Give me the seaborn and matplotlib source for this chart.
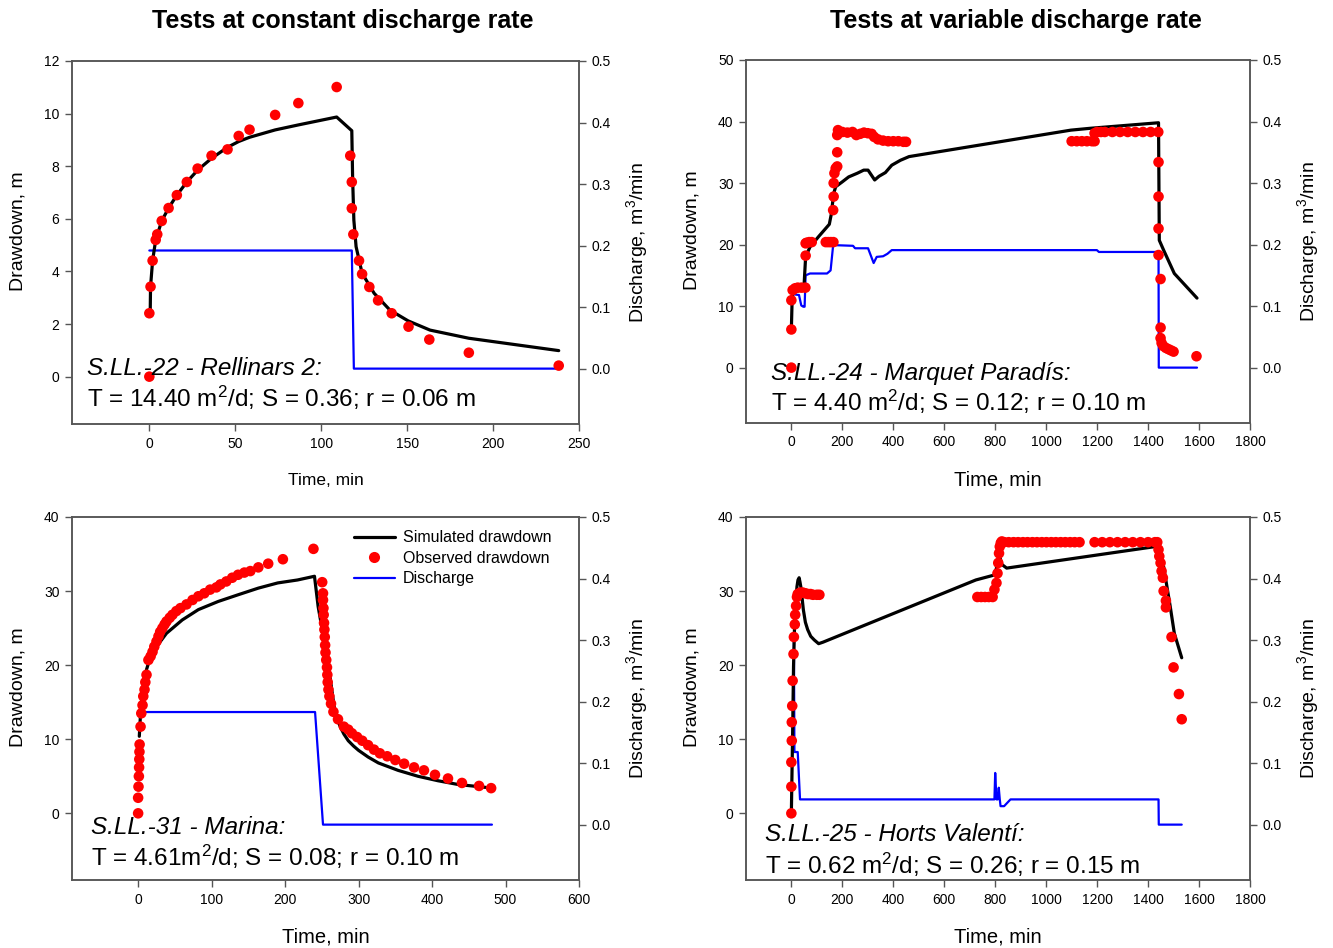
import matplotlib
matplotlib.use("Agg")
import matplotlib.pyplot as plt
from matplotlib.lines import Line2D
import seaborn as sns

# ---------------- data ----------------
# Panel 1: S.LL.-22 Rellinars 2 (constant rate)
p1_obs_t = [0, 0, 0.7, 1.9, 3.7, 4.6, 7.2, 11.2, 16, 21.8, 28.1, 36.2, 45.5, 52, 58.3, 73.2,
            86.7, 109, 116.9, 117.8, 117.8, 118.7, 122, 123.8, 128, 133.1, 141, 150.8,
            162.9, 185.9, 238.2]
p1_obs_s = [0, 2.41, 3.42, 4.41, 5.2, 5.41, 5.92, 6.41, 6.9, 7.4, 7.91, 8.4, 8.64, 9.15, 9.39, 9.95,
            10.4, 11.01, 8.4, 7.4, 6.4, 5.41, 4.41, 3.9, 3.41, 2.9, 2.41, 1.9,
            1.41, 0.91, 0.42]
p1_sim_t = [0.5, 0.7, 1.9, 3.7, 7.2, 11.2, 16, 21.8, 28.1, 36.2, 45.5, 52, 58.3, 73.2, 86.7,
            109, 117.8, 118.3, 119, 120.3, 123.8, 130.8, 140, 150.6, 163.3, 185.9, 238.2]
p1_sim_s = [2.4, 3.42, 4.41, 5.2, 5.92, 6.41, 6.9, 7.4, 7.85, 8.3, 8.72, 8.94, 9.1, 9.38, 9.57,
            9.87, 9.35, 7.5, 5.95, 4.94, 3.93, 3.17, 2.53, 2.12, 1.77, 1.46, 0.99]
p1_q_t = [0, 117.8, 119, 238.2]
p1_q = [0.192, 0.192, 0.0, 0.0]

# Panel 2: S.LL.-24 Marquet Paradis (variable rate)
p2_obs_t = [0, 0, 0, 5, 15, 25, 40, 55, 56, 56,
            60, 70, 80, 135, 145, 155, 165, 164, 166, 166,
            169, 174, 180, 180, 180, 183, 200, 220, 240, 255,
            270, 285, 300, 315, 325, 340, 360, 380, 400, 420,
            440, 450, 1100, 1120, 1140, 1160, 1180, 1190, 1190, 1200,
            1215, 1230, 1260, 1290, 1320, 1350, 1380, 1410, 1440, 1441,
            1441, 1441, 1441, 1449, 1449, 1449, 1453, 1460, 1470, 1480,
            1490, 1500, 1590]
p2_obs_s = [0, 6.2, 10.95, 12.6, 12.9, 13.0, 13.0, 13.0, 18.2, 20.2,
            20.3, 20.4, 20.4, 20.4, 20.4, 20.4, 20.4, 25.6, 27.8, 30.0,
            31.6, 32.4, 32.7, 35.0, 37.8, 38.6, 38.3, 38.2, 38.3, 37.8,
            38.0, 38.2, 38.1, 38.0, 37.5, 37.1, 36.9, 36.8, 36.8, 36.8,
            36.7, 36.7, 36.8, 36.8, 36.8, 36.8, 36.8, 36.8, 38.1, 38.3,
            38.3, 38.3, 38.3, 38.3, 38.3, 38.3, 38.3, 38.3, 38.3, 33.4,
            27.8, 22.6, 18.3, 14.4, 6.5, 4.8, 4.0, 3.5, 3.2, 3.0,
            2.8, 2.6, 1.85]
p2_sim_t = [0, 3, 8, 50, 56, 73, 107, 149, 157, 166,
            174, 200, 225, 259, 284, 301, 327, 344, 369, 394,
            428, 462, 1097, 1173, 1441, 1444, 1461, 1503, 1592]
p2_sim_s = [6.2, 11.0, 13.1, 13.5, 18.0, 19.6, 21.3, 23.3, 25.0, 28.3,
            29.4, 30.2, 31.0, 31.6, 32.1, 32.1, 30.5, 31.1, 31.7, 32.9,
            33.7, 34.3, 38.6, 38.9, 39.8, 20.7, 19.1, 15.3, 11.3]
p2_q_t = [5, 12, 13, 30, 39, 47, 52, 56, 73, 140,
          154, 166, 174, 242, 250, 301, 323, 335, 360, 377,
          394, 1199, 1207, 1441, 1442, 1592]
p2_q = [0.134, 0.134, 0.119, 0.118, 0.101, 0.099, 0.099, 0.150, 0.153, 0.153,
        0.158, 0.207, 0.199, 0.198, 0.194, 0.194, 0.170, 0.180, 0.181, 0.185,
        0.191, 0.191, 0.188, 0.188, 0.0, 0.0]

# Panel 3: S.LL.-31 Marina (constant rate)
p3_obs_t = [0, 0, 0.5, 1, 1.3, 1.6, 1.8, 2.0, 3.3, 4.3,
            6, 7, 8.7, 9.8, 11.4, 14, 17, 19.6, 22, 25,
            27.7, 30, 33, 36, 38.6, 43, 46.7, 52, 57.6, 65.8,
            74, 82, 90, 98, 106.5, 112, 120, 128, 136, 144.6,
            152.7, 163.6, 177, 197, 238.6, 250.5, 251.6, 251.6, 252.2, 252.5,
            253, 253.5, 254, 254.5, 255, 256, 257, 257.5, 258, 259,
            260.3, 262.5, 265.8, 272, 280, 286, 291, 298, 305, 313,
            321, 329, 339, 350, 362, 375.5, 389, 404, 421.7, 440.7,
            464, 480.4]
p3_obs_s = [0, 2.1, 3.6, 5.0, 6.2, 7.3, 8.3, 9.3, 11.7, 13.5,
            14.6, 15.8, 16.7, 17.7, 18.7, 20.7, 21.2, 21.8, 22.5, 23.2,
            23.9, 24.5, 25.0, 25.5, 25.9, 26.4, 26.8, 27.3, 27.7, 28.2,
            28.8, 29.3, 29.7, 30.2, 30.5, 30.9, 31.3, 31.8, 32.2, 32.5,
            32.7, 33.2, 33.7, 34.3, 35.7, 31.2, 29.7, 28.8, 27.7, 26.8,
            25.7, 24.8, 23.8, 22.7, 21.7, 20.7, 19.7, 18.7, 17.7, 16.7,
            15.8, 14.8, 13.7, 12.7, 11.7, 11.3, 10.8, 10.3, 9.8, 9.2,
            8.6, 8.1, 7.7, 7.2, 6.7, 6.2, 5.8, 5.2, 4.7, 4.1,
            3.7, 3.4]
p3_sim_t = [1.6, 3.3, 7, 11.4, 17, 25, 38.6, 60, 82, 109,
            136, 163.6, 190, 217, 240, 245, 253, 261, 266.8, 270,
            275, 280, 286, 293, 300, 313, 327, 353.8, 381, 408,
            435, 473]
p3_sim_s = [10.4, 13.5, 17.1, 19.4, 21.2, 22.5, 24.3, 26.1, 27.5, 28.6,
            29.5, 30.4, 31.1, 31.5, 32.0, 27.9, 23.4, 18.5, 14.4, 13.0,
            11.7, 10.7, 9.8, 9.1, 8.5, 7.6, 6.8, 5.8, 5.0, 4.4,
            3.9, 3.5]
p3_q_t = [1.6, 240.8, 251.6, 481.5]
p3_q = [0.183, 0.183, 0.0, 0.0]

# Panel 4: S.LL.-25 Horts Valenti (variable rate)
p4_obs_t = [0, 0, 0, 1.7, 1.7, 3.4, 5, 8.5, 10, 13.5, 15, 18.6, 22,
            25, 35, 45, 55, 65, 75, 85, 100, 110,
            730, 745, 760, 775, 790,
            797, 805, 809, 812, 815, 818, 822, 826,
            835, 853, 872, 890, 909, 927, 946, 964, 983, 1001, 1020, 1038, 1057, 1075, 1094, 1112, 1131,
            1190, 1220, 1250, 1280, 1310, 1340, 1370, 1400, 1427,
            1436, 1441, 1444, 1449, 1453, 1458, 1461, 1470, 1470, 1492, 1500, 1521, 1532]
p4_obs_s = [0, 3.6, 6.9, 9.8, 12.3, 14.5, 17.9, 21.5, 23.8, 25.5, 26.8, 28.0, 29.2,
            29.6, 29.8, 29.8, 29.7, 29.6, 29.6, 29.5, 29.5, 29.5,
            29.2, 29.2, 29.2, 29.2, 29.2,
            30.2, 31.1, 32.4, 33.8, 35.1, 36.0, 36.5, 36.7,
            36.6, 36.6, 36.6, 36.6, 36.6, 36.6, 36.6, 36.6, 36.6, 36.6, 36.6, 36.6, 36.6, 36.6, 36.6, 36.6, 36.6,
            36.6, 36.6, 36.6, 36.6, 36.6, 36.6, 36.6, 36.6, 36.6,
            36.6, 35.6, 34.7, 33.8, 32.7, 31.8, 30.0, 28.7, 27.8, 23.8, 19.7, 16.1, 12.7]
p4_sim_t = [0, 5, 8.5, 13.5, 22, 26, 30.5, 34, 39, 43,
            47, 55, 64, 76, 90, 107, 124, 724, 800, 815,
            826, 845, 1427, 1444, 1461, 1487, 1503, 1532]
p4_sim_s = [0, 10.8, 19.8, 26.6, 30.6, 31.5, 31.8, 31.2, 30.2, 28.8,
            27.5, 25.8, 24.8, 23.9, 23.4, 22.9, 23.1, 31.5, 32.2, 35.0,
            33.6, 33.1, 36.0, 35.6, 33.3, 27.9, 24.3, 21.0]
p4_q_t = [10, 12, 13.5, 25, 34, 797, 800, 805, 810, 814, 818, 821, 835, 860, 1441, 1442, 1532]
p4_q = [0.300, 0.118, 0.118, 0.118, 0.041, 0.041, 0.084, 0.041, 0.041, 0.060, 0.041, 0.030,
        0.030, 0.041, 0.041, 0.0, 0.0]

titles = ["Tests at constant discharge rate", "Tests at variable discharge rate"]
well_names = ["S.LL.-22 - Rellinars 2:", "S.LL.-24 - Marquet Paradís:",
              "S.LL.-31 - Marina:", "S.LL.-25 - Horts Valentí:"]
well_params = ["T = 14.40 m$^{2}$/d; S = 0.36; r = 0.06 m",
               "T = 4.40 m$^{2}$/d; S = 0.12; r = 0.10 m",
               "T = 4.61m$^{2}$/d; S = 0.08; r = 0.10 m",
               "T = 0.62 m$^{2}$/d; S = 0.26; r = 0.15 m"]
legend_labels = ["Simulated drawdown", "Observed drawdown", "Discharge"]

# ---------------- style ----------------
sns.set_style("ticks")
plt.rcParams["font.family"] = ["Liberation Sans", "DejaVu Sans"]
plt.rcParams["mathtext.fontset"] = "custom"
plt.rcParams["mathtext.rm"] = "Liberation Sans"
plt.rcParams["mathtext.it"] = "Liberation Sans:italic"
plt.rcParams["axes.unicode_minus"] = False
plt.rcParams["text.color"] = "black"
plt.rcParams["axes.labelcolor"] = "black"

W, H = 1333, 948
fig = plt.figure(figsize=(W / 100, H / 100), dpi=100, facecolor="white")

SPINE = "#555555"

panels = [
    dict(box=(72, 61, 579, 424), xlim=(-45, 250), xt=[0, 50, 100, 150, 200, 250],
         ylim=(-1.8, 12), yt=[0, 2, 4, 6, 8, 10, 12],
         sim=(p1_sim_t, p1_sim_s), obs=(p1_obs_t, p1_obs_s), q=(p1_q_t, p1_q),
         txt=(0.029, 0.152, 0.071), xfs=12.5),
    dict(box=(746, 60, 1250, 423), xlim=(-178, 1800), xt=list(range(0, 2000, 200)),
         ylim=(-9, 50), yt=[0, 10, 20, 30, 40, 50],
         sim=(p2_sim_t, p2_sim_s), obs=(p2_obs_t, p2_obs_s), q=(p2_q_t, p2_q),
         txt=(0.05, 0.136, 0.058), xfs=14.5),
    dict(box=(72, 517, 579, 880), xlim=(-90, 600), xt=[0, 100, 200, 300, 400, 500, 600],
         ylim=(-9, 40), yt=[0, 10, 20, 30, 40],
         sim=(p3_sim_t, p3_sim_s), obs=(p3_obs_t, p3_obs_s), q=(p3_q_t, p3_q),
         txt=(0.037, 0.145, 0.064), xfs=14.5),
    dict(box=(746, 517, 1250, 880), xlim=(-178, 1800), xt=list(range(0, 2000, 200)),
         ylim=(-9, 40), yt=[0, 10, 20, 30, 40],
         sim=(p4_sim_t, p4_sim_s), obs=(p4_obs_t, p4_obs_s), q=(p4_q_t, p4_q),
         txt=(0.037, 0.124, 0.041), xfs=14.5),
]

for i, p in enumerate(panels):
    x0, y0, x1, y1 = p["box"]
    ax = fig.add_axes([x0 / W, 1 - y1 / H, (x1 - x0) / W, (y1 - y0) / H])
    ax2 = ax.twinx()
    ax.set_zorder(ax2.get_zorder() + 1)
    ax.patch.set_visible(False)

    sns.lineplot(x=p["q"][0], y=p["q"][1], ax=ax2, color="#0000FF", linewidth=1.6,
                 sort=False, estimator=None)
    sns.lineplot(x=p["sim"][0], y=p["sim"][1], ax=ax, color="black", linewidth=2.3,
                 sort=False, estimator=None)
    sns.scatterplot(x=p["obs"][0], y=p["obs"][1], ax=ax, color="#FF0000", s=58,
                    edgecolor="none", zorder=3)

    ax.set_xlim(*p["xlim"])
    ax.set_ylim(*p["ylim"])
    ax.set_xticks(p["xt"])
    ax.set_yticks(p["yt"])
    ax2.set_ylim(-0.09, 0.5)
    ax2.set_yticks([0.0, 0.1, 0.2, 0.3, 0.4, 0.5])
    ax2.set_yticklabels(["0.0", "0.1", "0.2", "0.3", "0.4", "0.5"])

    for a in (ax, ax2):
        for sp in a.spines.values():
            sp.set_visible(True)
            sp.set_color(SPINE)
            sp.set_linewidth(1.1)
        a.tick_params(direction="out", length=5, width=1, color=SPINE,
                      labelcolor="black", labelsize=10, pad=4)
    ax.tick_params(axis="y", right=False)
    ax.tick_params(axis="x", top=False)

    ax.set_xlabel("Time, min", fontsize=p["xfs"])
    ax.xaxis.label.set_va("center")
    ax.xaxis.set_label_coords(0.5, -0.157)
    ax.set_ylabel("Drawdown, m", fontsize=14)
    ax.yaxis.label.set_va("center")
    ax.yaxis.set_label_coords(-0.107, 0.53)
    ax2.set_ylabel("Discharge, m$^{3}$/min", fontsize=14)
    ax2.yaxis.label.set_va("center")
    ax2.yaxis.set_label_coords(1.115, 0.5)

    tx, ty1, ty2 = p["txt"]
    ax.text(tx, ty1, well_names[i], transform=ax.transAxes, fontsize=17.5,
            style="italic", ha="left", va="center", color="black")
    ax.text(tx, ty2, well_params[i], transform=ax.transAxes, fontsize=17.5,
            ha="left", va="center", color="black")

    if i == 2:
        handles = [Line2D([], [], color="black", lw=2.3),
                   Line2D([], [], color="#FF0000", lw=0, marker="o", markersize=8,
                          markeredgewidth=0),
                   Line2D([], [], color="#0000FF", lw=1.6)]
        ax.legend(handles, legend_labels, loc="upper right", bbox_to_anchor=(0.965, 0.99),
                  frameon=False, fontsize=11.5, handlelength=2.6, handletextpad=0.5,
                  labelspacing=0.35, borderaxespad=0.2)

fig.text(343 / W, 1 - 21 / H, titles[0], ha="center", va="center", fontsize=18,
         weight="bold", color="black")
fig.text(1016 / W, 1 - 21 / H, titles[1], ha="center", va="center", fontsize=18,
         weight="bold", color="black")

fig.savefig("out.png", dpi=100, facecolor="white")
